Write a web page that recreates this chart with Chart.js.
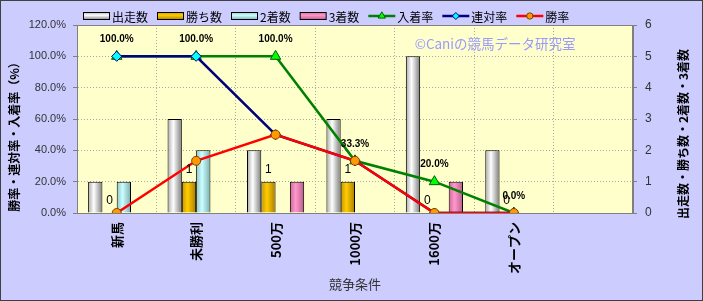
<!DOCTYPE html>
<html>
<head>
<meta charset="utf-8">
<script src="https://cdn.jsdelivr.net/npm/chart.js@4.4.0/dist/chart.umd.min.js"></script>
<style>
  html, body { margin: 0; padding: 0; background: #fff; }
  #wrap { width: 703px; height: 301px; }
</style>
</head>
<body>
<div id="wrap"><canvas id="myChart" width="703" height="301"></canvas></div>
<script>
// data
const categories = ['新馬', '未勝利', '500万', '1000万', '1600万', 'オープン', ''];
const runs = [1, 3, 2, 3, 5, 2, null];
const wins = [0, 1, 1, 1, 0, 0, null];
const seconds = [1, 2, 0, 0, 0, 0, null];
const thirds = [0, 0, 1, 0, 1, 0, null];
const placeRate = [100, 100, 100, 33.3, 20, 0, null];
const quinellaRate = [100, 100, 50, 33.3, 0, 0, null];
const winRate = [0, 33.3, 50, 33.3, 0, 0, null];
const rateTicks = [0, 20, 40, 60, 80, 100, 120];
const countTicks = [0, 1, 2, 3, 4, 5, 6];

const FONT = "'Liberation Sans', 'Noto Sans CJK JP', sans-serif";
const JFONT = "'Noto Sans CJK JP', sans-serif";

// edge / middle / edge colours of the shaded bars
const barColors = [
  ['#A8A8A8', '#FFFFFF', '#7C7C7C'],
  ['#C89600', '#FFCC00', '#A87C00'],
  ['#8CC4C4', '#CCFFFF', '#7AAEAE'],
  ['#CC6699', '#FF99CC', '#B85C8A']
];
const barGroup = 0.72;

function barGradient(k) {
  return function (c) {
    const chart = c.chart, xs = chart.scales.x;
    const cols = barColors[k];
    if (!xs || !chart.chartArea || c.dataIndex === undefined) return cols[1];
    const slot = xs.getPixelForValue(1) - xs.getPixelForValue(0);
    const w = slot * barGroup / 4;
    const left = xs.getPixelForValue(c.dataIndex) - 2 * w + k * w;
    const g = chart.ctx.createLinearGradient(left, 0, left + w, 0);
    g.addColorStop(0, cols[0]);
    g.addColorStop(0.4, cols[1]);
    g.addColorStop(1, cols[2]);
    return g;
  };
}

function barSet(label, data, k) {
  return {
    type: 'bar', label: label, data: data, yAxisID: 'y1', order: 4,
    backgroundColor: barGradient(k), borderColor: '#000', borderWidth: 1,
    categoryPercentage: barGroup, barPercentage: 1, styleKey: k
  };
}

const decor = {
  id: 'decor',
  beforeDraw(chart) {
    const c = chart.ctx, a = chart.chartArea;
    c.save();
    c.fillStyle = '#CCCCFF';
    c.fillRect(0, 0, chart.width, chart.height);
    c.fillStyle = '#FFFFCC';
    c.fillRect(a.left, a.top, a.right - a.left, a.bottom - a.top);
    c.strokeStyle = '#404040';
    c.lineWidth = 1;
    c.strokeRect(0.5, 0.5, chart.width - 1, chart.height - 1);
    c.restore();
  },
  beforeDatasetsDraw(chart) {
    const c = chart.ctx, a = chart.chartArea;
    c.save();
    c.strokeStyle = '#808080';
    c.lineWidth = 1;
    c.strokeRect(a.left + 0.5, a.top + 0.5, a.right - a.left - 1, a.bottom - a.top);
    c.fillStyle = '#9999FF';
    c.font = '13.5px ' + JFONT;
    c.textAlign = 'center';
    c.textBaseline = 'middle';
    c.fillText('©Caniの競馬データ研究室', a.left + (a.right - a.left) * 0.752, a.top + 19);
    c.restore();
  },
  afterDatasetsDraw(chart) {
    const c = chart.ctx;
    c.save();
    c.fillStyle = '#000';
    c.textAlign = 'center';
    c.textBaseline = 'middle';
    // 入着率 labels
    const ds = chart.data.datasets;
    const pIdx = ds.findIndex(d => d.label === '入着率');
    c.font = 'bold 10px ' + FONT;
    chart.getDatasetMeta(pIdx).data.forEach((pt, i) => {
      const v = ds[pIdx].data[i];
      if (v === null) return;
      c.fillText(v.toFixed(1) + '%', pt.x, pt.y - 17);
    });
    // 勝ち数 labels
    const wIdx = ds.findIndex(d => d.label === '勝ち数');
    c.font = '12px ' + FONT;
    chart.getDatasetMeta(wIdx).data.forEach((bar, i) => {
      const v = ds[wIdx].data[i];
      if (v === null) return;
      c.fillText(String(v), bar.x, bar.y - 12);
    });
    c.restore();
  },
  afterDraw(chart) {
    const c = chart.ctx, a = chart.chartArea;
    c.save();
    // axis titles
    c.fillStyle = '#000';
    c.textAlign = 'center';
    c.textBaseline = 'middle';
    c.font = 'bold 12px ' + JFONT;
    c.save();
    c.translate(14, 134);
    c.rotate(-Math.PI / 2);
    c.fillText('勝率・連対率・入着率（%）', 0, 0);
    c.restore();
    c.save();
    c.translate(683, 134);
    c.rotate(-Math.PI / 2);
    c.fillText('出走数・勝ち数・2着数・3着数', 0, 0);
    c.restore();
    c.fillStyle = '#333';
    c.font = '13px ' + JFONT;
    c.fillText('競争条件', (a.left + a.right) / 2, 284);

    // legend
    let x = 83;
    const y = 16;
    c.font = '12px ' + JFONT;
    c.textAlign = 'left';
    chart.data.datasets.forEach(d => {
      if (d.type === 'bar') {
        const cols = barColors[d.styleKey];
        const g = c.createLinearGradient(0, y - 4, 0, y + 4);
        g.addColorStop(0, cols[0]);
        g.addColorStop(0.4, cols[1]);
        g.addColorStop(1, cols[2]);
        c.fillStyle = g;
        c.fillRect(x + 0.5, y - 3.5, 26, 7);
        c.strokeStyle = '#000';
        c.lineWidth = 1;
        c.strokeRect(x + 0.5, y - 3.5, 26, 7);
      } else {
        c.strokeStyle = d.borderColor;
        c.lineWidth = 2.5;
        c.beginPath();
        c.moveTo(x, y);
        c.lineTo(x + 27, y);
        c.stroke();
        c.lineWidth = 1;
        c.fillStyle = d.pointBackgroundColor;
        c.strokeStyle = d.pointBorderColor;
        Chart.helpers.drawPoint(c, {
          pointStyle: d.pointStyle, radius: d.pointRadius * 0.7, borderWidth: 1, rotation: 0
        }, x + 13.5, y);
      }
      x += 29;
      c.fillStyle = '#000';
      c.fillText(d.label, x, y + 1);
      x += c.measureText(d.label).width + 9;
    });
    c.restore();
  }
};

const ctx = document.getElementById('myChart').getContext('2d');
const myChart = new Chart(ctx, {
  data: {
    labels: categories,
    datasets: [
      barSet('出走数', runs, 0),
      barSet('勝ち数', wins, 1),
      barSet('2着数', seconds, 2),
      barSet('3着数', thirds, 3),
      {
        type: 'line', label: '入着率', data: placeRate, yAxisID: 'y', order: 2,
        borderColor: '#008000', borderWidth: 2.5, tension: 0,
        pointStyle: 'triangle', pointRadius: 6,
        pointBackgroundColor: '#00FF00', pointBorderColor: '#006000', pointBorderWidth: 1
      },
      {
        type: 'line', label: '連対率', data: quinellaRate, yAxisID: 'y', order: 1,
        borderColor: '#000080', borderWidth: 2.5, tension: 0,
        pointStyle: 'rectRot', pointRadius: 5,
        pointBackgroundColor: '#00FFFF', pointBorderColor: '#000080', pointBorderWidth: 1
      },
      {
        type: 'line', label: '勝率', data: winRate, yAxisID: 'y', order: 0,
        borderColor: '#FF0000', borderWidth: 2.5, tension: 0,
        pointStyle: 'circle', pointRadius: 4.5,
        pointBackgroundColor: '#FF9900', pointBorderColor: '#804000', pointBorderWidth: 1
      }
    ]
  },
  options: {
    responsive: false,
    animation: false,
    devicePixelRatio: 1,
    layout: { padding: { top: 25, left: 0, right: 0, bottom: 0 } },
    plugins: { legend: { display: false }, tooltip: { enabled: false } },
    scales: {
      x: {
        offset: true,
        afterFit: s => { s.height = 88; },
        grid: { offset: true, color: '#A8A8A8', drawTicks: false },
        border: { color: '#808080', dash: [1, 2] },
        ticks: {
          autoSkip: false, maxRotation: 90, minRotation: 90, padding: 9,
          color: '#000', font: { family: JFONT, size: 13, weight: 'bold' }
        }
      },
      y: {
        position: 'left', min: 0, max: 120,
        afterFit: s => { s.width = 77; },
        afterBuildTicks: s => { s.ticks = rateTicks.map(v => ({ value: v })); },
        grid: { color: '#A8A8A8', tickLength: 4, tickColor: '#808080' },
        border: { color: '#808080', dash: [1, 2] },
        ticks: {
          padding: 7, color: '#333', font: { family: FONT, size: 11 },
          callback: v => v.toFixed(1) + '%'
        }
      },
      y1: {
        position: 'right', min: 0, max: 6,
        afterFit: s => { s.width = 70; },
        afterBuildTicks: s => { s.ticks = countTicks.map(v => ({ value: v })); },
        grid: { drawOnChartArea: false, tickLength: 4, color: '#808080' },
        border: { color: '#808080' },
        ticks: { padding: 8, color: '#333', font: { family: FONT, size: 12 } }
      }
    }
  },
  plugins: [decor]
});
</script>
</body>
</html>
